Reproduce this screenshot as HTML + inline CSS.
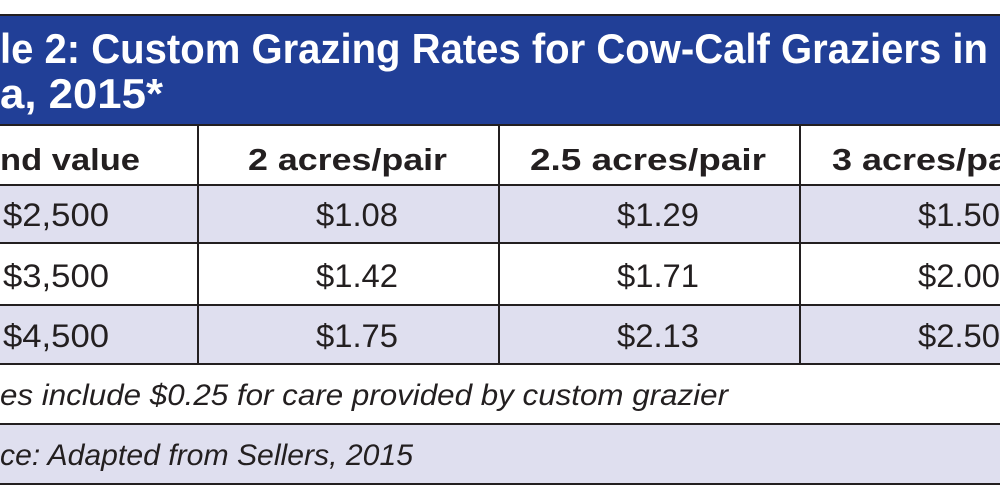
<!DOCTYPE html>
<html><head><meta charset="utf-8"><style>
html,body{margin:0;padding:0;background:#fff;overflow:hidden}
svg{display:block}
text{font-family:"Liberation Sans",sans-serif;fill:#231f20}
.t{fill:#fff;font-weight:bold;font-size:42px}
.h{font-weight:bold;font-size:31px}
.d{font-size:32px}
.i{font-style:italic;font-size:30px}
</style></head><body>
<svg width="1000" height="500" viewBox="0 0 1000 500">
<rect x="0" y="0" width="1000" height="500" fill="#fff"/>
<rect x="0" y="15" width="1000" height="110" fill="#213f97"/>
<rect x="0" y="185" width="1000" height="58" fill="#dfdfef"/>
<rect x="0" y="305" width="1000" height="59" fill="#dfdfef"/>
<rect x="0" y="424" width="1000" height="60" fill="#dfdfef"/>
<g stroke="#231f20" stroke-width="2">
<line x1="0" y1="15" x2="1000" y2="15"/>
<line x1="0" y1="125" x2="1000" y2="125"/>
<line x1="0" y1="185" x2="1000" y2="185"/>
<line x1="0" y1="243" x2="1000" y2="243"/>
<line x1="0" y1="305" x2="1000" y2="305"/>
<line x1="0" y1="364" x2="1000" y2="364"/>
<line x1="0" y1="424" x2="1000" y2="424"/>
<line x1="0" y1="484" x2="1000" y2="484"/>
<line x1="198" y1="125" x2="198" y2="364"/>
<line x1="499" y1="125" x2="499" y2="364"/>
<line x1="800" y1="125" x2="800" y2="364"/>
</g>
<text class="t" x="0" y="63" textLength="988" lengthAdjust="spacingAndGlyphs">le 2: Custom Grazing Rates for Cow-Calf Graziers in</text>
<text class="t" x="0" y="108" textLength="163" lengthAdjust="spacingAndGlyphs">a, 2015*</text>
<text class="h" x="0" y="170" textLength="140" lengthAdjust="spacingAndGlyphs">nd value</text>
<text class="h" x="248" y="170" textLength="199" lengthAdjust="spacingAndGlyphs">2 acres/pair</text>
<text class="h" x="530" y="170" textLength="236" lengthAdjust="spacingAndGlyphs">2.5 acres/pair</text>
<text class="h" x="832" y="170" textLength="200" lengthAdjust="spacingAndGlyphs">3 acres/pair</text>
<text class="d" x="3" y="226" textLength="106" lengthAdjust="spacingAndGlyphs">$2,500</text>
<text class="d" x="316" y="226" textLength="82" lengthAdjust="spacingAndGlyphs">$1.08</text>
<text class="d" x="617" y="226" textLength="82" lengthAdjust="spacingAndGlyphs">$1.29</text>
<text class="d" x="918" y="226" textLength="82" lengthAdjust="spacingAndGlyphs">$1.50</text>
<text class="d" x="3" y="287" textLength="106" lengthAdjust="spacingAndGlyphs">$3,500</text>
<text class="d" x="316" y="287" textLength="82" lengthAdjust="spacingAndGlyphs">$1.42</text>
<text class="d" x="617" y="287" textLength="82" lengthAdjust="spacingAndGlyphs">$1.71</text>
<text class="d" x="918" y="287" textLength="82" lengthAdjust="spacingAndGlyphs">$2.00</text>
<text class="d" x="3" y="347" textLength="106" lengthAdjust="spacingAndGlyphs">$4,500</text>
<text class="d" x="316" y="347" textLength="82" lengthAdjust="spacingAndGlyphs">$1.75</text>
<text class="d" x="617" y="347" textLength="82" lengthAdjust="spacingAndGlyphs">$2.13</text>
<text class="d" x="918" y="347" textLength="82" lengthAdjust="spacingAndGlyphs">$2.50</text>
<text class="i" x="0" y="405" textLength="728" lengthAdjust="spacingAndGlyphs">es include $0.25 for care provided by custom grazier</text>
<text class="i" x="0" y="465" textLength="413" lengthAdjust="spacingAndGlyphs">ce: Adapted from Sellers, 2015</text>
</svg>
</body></html>
